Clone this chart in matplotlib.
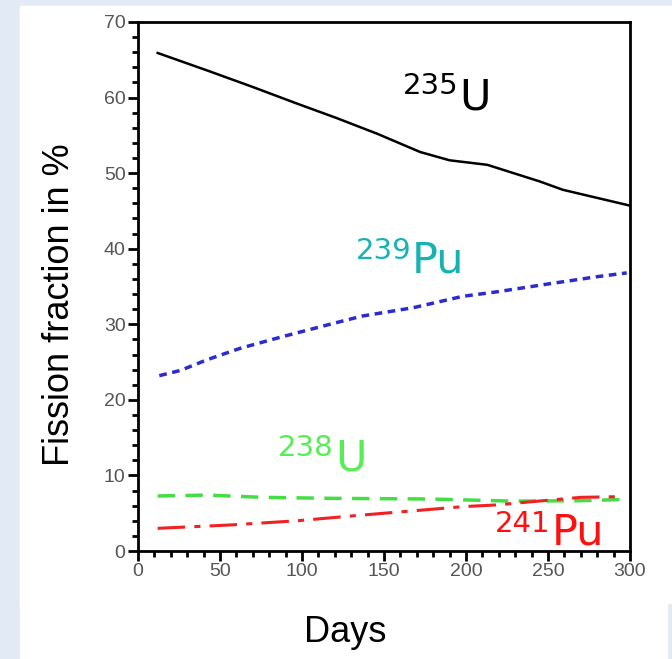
import matplotlib.pyplot as plt
from matplotlib.patches import Rectangle
from matplotlib.ticker import MultipleLocator

# fission fractions (%)
u235_days = [12, 42, 70, 97, 121, 146, 172, 190, 213, 245, 259, 300]
u235 = [65.9, 63.6, 61.4, 59.2, 57.3, 55.2, 52.8, 51.7, 51.1, 48.9, 47.8, 45.7]

pu239_days = [13, 26, 42, 62, 87, 117, 137, 168, 198, 219, 249, 280, 298]
pu239 = [23.2, 23.9, 25.3, 26.8, 28.3, 30.0, 31.1, 32.2, 33.7, 34.3, 35.3, 36.3, 36.8]

u238_days = [12, 42, 76, 117, 178, 228, 269, 300]
u238 = [7.28, 7.4, 7.1, 6.97, 6.88, 6.6, 6.65, 6.84]

pu241_days = [12, 56, 97, 137, 178, 198, 219, 239, 270, 296]
pu241 = [3.0, 3.44, 4.0, 4.76, 5.5, 5.87, 6.1, 6.5, 7.1, 7.2]

# (mass number, element, x, y of superscript, x, y of symbol, colour)
labels = [
    ("235", "U", 195.5, 60.5, 196.0, 58.4, "black"),
    ("239", "Pu", 166.5, 38.6, 167.0, 36.8, "#17b3b3"),
    ("238", "U", 119, 12.6, 120.5, 10.7, "#55ee55"),
    ("241", "Pu", 251.5, 2.5, 252.0, 0.8, "#ff1010"),
]

W, H = 672, 659
fig = plt.figure(figsize=(W / 100, H / 100), dpi=100)
fig.patch.set_facecolor("#e2eaf5")
# white slide panels
fig.patches.append(Rectangle((20 / W, 0), (667 - 20) / W, 1 - 6 / H,
                             transform=fig.transFigure, color="white", zorder=-1))
fig.patches.append(Rectangle((20 / W, 1 - 603 / H), (W - 20) / W, (603 - 6) / H,
                             transform=fig.transFigure, color="white", zorder=-1))

ax = fig.add_axes([138 / W, 1 - 551 / H, (630 - 138) / W, (551 - 22) / H])
ax.set_facecolor("white")

ax.plot(u235_days, u235, color="black", lw=1.8)
ax.plot(pu239_days, pu239, color="#2b2bd0", lw=2.5, dashes=(2.2, 1.6))
ax.plot(u238_days, u238, color="#44dd44", lw=2.5, dashes=(5, 3))
ax.plot(pu241_days, pu241, color="#ee2222", lw=2.2, dashes=(9, 3, 2, 3))

for mass, sym, xs, ys, xb, yb, col in labels:
    ax.text(xs, ys, mass, color=col, fontsize=21, ha="right", va="baseline",
            family="DejaVu Sans")
    ax.text(xb, yb, sym, color=col, fontsize=31, ha="left", va="baseline",
            family="DejaVu Sans")

ax.set_xlim(0, 300)
ax.set_ylim(0, 70)
ax.xaxis.set_major_locator(MultipleLocator(50))
ax.xaxis.set_minor_locator(MultipleLocator(10))
ax.yaxis.set_major_locator(MultipleLocator(10))
ax.yaxis.set_minor_locator(MultipleLocator(2))
ax.tick_params(which="major", direction="out", length=7, width=2,
               labelsize=14, labelcolor="#555555", pad=2)
ax.tick_params(which="minor", direction="out", length=4, width=2)
for lab in ax.get_xticklabels() + ax.get_yticklabels():
    lab.set_family("Liberation Sans")
for sp in ax.spines.values():
    sp.set_linewidth(2)

fig.text(60 / W, 1 - 305 / H, "Fission fraction in %", rotation=90,
         ha="center", va="center", fontsize=26, family="Liberation Sans")
fig.text(345 / W, 1 - 632 / H, "Days", ha="center", va="center",
         fontsize=26, family="Liberation Sans")

fig.savefig("out.png", dpi=100, facecolor=fig.get_facecolor())
